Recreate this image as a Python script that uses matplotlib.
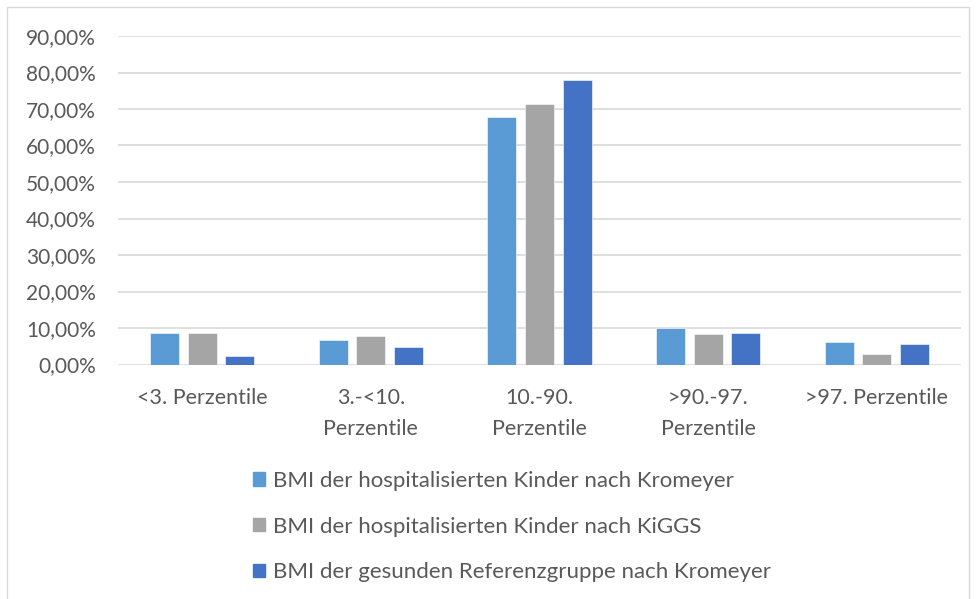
import numpy as np
import matplotlib.pyplot as plt
from matplotlib.patches import Rectangle, Patch
from matplotlib.ticker import FuncFormatter

plt.rcParams['font.family'] = ['Lato', 'DejaVu Sans']

categories = ['<3. Perzentile', '3.-<10.\nPerzentile', '10.-90.\nPerzentile',
              '>90.-97.\nPerzentile', '>97. Perzentile']
series_names = ['BMI der hospitalisierten Kinder nach Kromeyer',
                'BMI der hospitalisierten Kinder nach KiGGS',
                'BMI der gesunden Referenzgruppe nach Kromeyer']
kromeyer_hosp = [0.085, 0.066, 0.678, 0.099, 0.062]
kiggs_hosp = [0.087, 0.078, 0.715, 0.083, 0.030]
kromeyer_ref = [0.022, 0.049, 0.779, 0.085, 0.057]
colors = ['#5B9BD5', '#A5A5A5', '#4472C4']
text_color = '#595959'
grid_color = '#D9D9D9'

W, H = 976, 599
fig = plt.figure(figsize=(W / 100, H / 100), dpi=100)
fig.patches.append(Rectangle((7 / W, -0.1), 962 / W, 1.1 - 7 / H,
                             transform=fig.transFigure, fill=False,
                             edgecolor=grid_color, linewidth=1))

ax = fig.add_axes([118 / W, 1 - 364.5 / H, 843 / W, 328.5 / H])
x = np.arange(len(categories))
width = 0.172
step = 0.223
for i, vals in enumerate([kromeyer_hosp, kiggs_hosp, kromeyer_ref]):
    ax.bar(x + (i - 1) * step, vals, width, color=colors[i], zorder=3,
           edgecolor='white', linewidth=0.4)

ax.set_xlim(-0.5, len(categories) - 0.5)
ax.set_ylim(0, 0.9)
ax.set_yticks(np.arange(0, 0.91, 0.1))
ax.yaxis.set_major_formatter(FuncFormatter(lambda v, p: f'{v * 100:.2f}'.replace('.', ',') + '%'))
ax.grid(axis='y', color=grid_color, linewidth=1.2, zorder=0)
for s in ax.spines.values():
    s.set_visible(False)
ax.tick_params(axis='y', length=0, pad=16, labelsize=15, labelcolor=text_color)
ax.tick_params(axis='x', length=0, pad=17, labelsize=15.5, labelcolor=text_color)
ax.set_xticks(x)
ax.set_xticklabels(categories, linespacing=1.65)

handles = [Patch(color=c) for c in colors]
fig.legend(handles, series_names, loc='upper left',
           bbox_to_anchor=(233 / W, 1 - 451 / H), frameon=False,
           fontsize=16, labelcolor=text_color, handlelength=0.55,
           handleheight=0.55, handletextpad=0.35, labelspacing=1.15)

fig.savefig('out.png', dpi=100)
